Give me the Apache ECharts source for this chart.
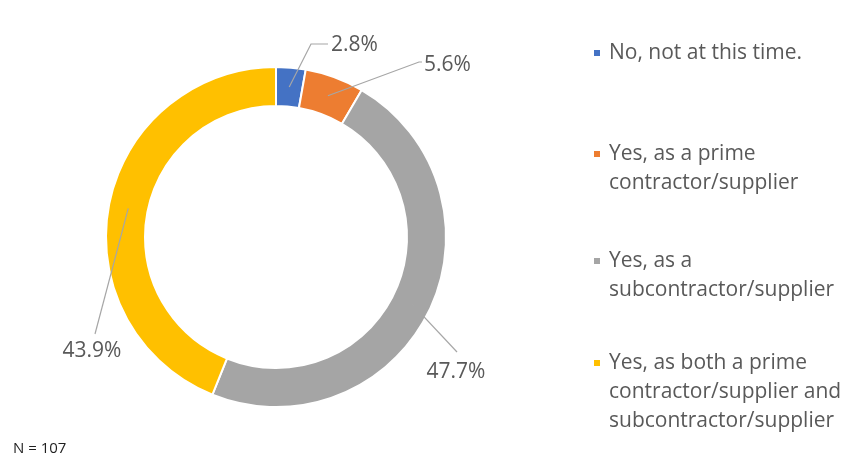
<!DOCTYPE html>
<html>
<head>
<meta charset="utf-8">
<script src="https://cdn.jsdelivr.net/npm/echarts@6/dist/echarts.min.js"></script>
<style>
  html, body { margin: 0; padding: 0; background: #fff; }
  #chart { width: 861px; height: 464px; }
</style>
</head>
<body>
<div id="chart"></div>
<script>
// Survey answers (share of respondents, %)
const categories = [
  'No, not at this time.',
  'Yes, as a prime\ncontractor/supplier',
  'Yes, as a\nsubcontractor/supplier',
  'Yes, as both a prime\ncontractor/supplier and\nsubcontractor/supplier'
];
const shares = [2.8, 5.6, 47.7, 43.9];
const colors = ['#4472C4', '#ED7D31', '#A5A5A5', '#FFC000'];
const footnote = 'N = 107';

// Ring geometry
const CX = 276, CY = 237, R_IN = 131, R_OUT = 170;

// Where each value label sits, and the elbow of its leader line
const labelSpots = [
  { x: 331, y: 45, align: 'left', bend: [311, 44], end: [328, 44] },
  { x: 424, y: 65, align: 'left', bend: [419, 62], end: [422, 62] },
  { x: 456, y: 372, align: 'center', bend: [457, 352], end: [457, 352] },
  { x: 92, y: 351, align: 'center', bend: [95, 334], end: [95, 334] }
];

// Legend rows: vertical centre of the first text line of each entry
const legendRows = [53, 154, 261, 363];
const LINE_H = 29;

const total = shares.reduce((a, b) => a + b, 0);
function midAnchor(i) {
  let before = 0;
  for (let k = 0; k < i; k++) before += shares[k];
  const frac = (before + shares[i] / 2) / total;
  const ang = frac * Math.PI * 2;
  const r = (R_IN + R_OUT) / 2;
  return [CX + r * Math.sin(ang), CY - r * Math.cos(ang)];
}

const FONT = '"Open Sans", "Liberation Sans", sans-serif';
const TEXT_COLOR = '#595959';
const sliceData = categories.map((name, i) => ({ name: name, value: shares[i] }));

// One legend per entry; blank lines above the wrapped text keep the
// marker level with the first line of text.
const legends = categories.map((name, i) => {
  const n = name.split('\n').length;
  return {
    data: [name],
    orient: 'vertical',
    left: 592,
    top: legendRows[i] - (n - 1) * LINE_H - LINE_H / 2,
    padding: 0,
    itemWidth: 14,
    itemHeight: 8,
    itemGap: 0,
    selectedMode: false,
    icon: 'path://M0,0H1V1H0Z',
    symbolKeepAspect: true,
    formatter: t => '\n'.repeat(n - 1) + t,
    textStyle: {
      fontFamily: FONT,
      fontSize: 21,
      color: TEXT_COLOR,
      lineHeight: LINE_H
    }
  };
});

const chart = echarts.init(document.getElementById('chart'), null, { renderer: 'canvas' });
chart.setOption({
  backgroundColor: '#ffffff',
  animation: false,
  color: colors,
  legend: legends,
  graphic: [{
    type: 'text',
    left: 13,
    top: 441,
    style: { text: footnote, fontFamily: FONT, fontSize: 15, fill: '#1f1f1f' }
  }],
  series: [
    {
      // the coloured ring
      type: 'pie',
      z: 2,
      center: [CX, CY],
      radius: [R_IN, R_OUT],
      startAngle: 90,
      clockwise: true,
      itemStyle: { borderColor: '#ffffff', borderWidth: 2 },
      label: { show: false },
      labelLine: { show: false },
      emphasis: { disabled: true },
      data: sliceData
    },
    {
      // value labels and leader lines, drawn over the ring
      type: 'pie',
      z: 5,
      center: [CX, CY],
      radius: [R_IN, R_OUT],
      startAngle: 90,
      clockwise: true,
      avoidLabelOverlap: false,
      silent: true,
      itemStyle: { color: 'rgba(0,0,0,0)', borderWidth: 0 },
      label: {
        show: true,
        position: 'outside',
        formatter: p => p.value.toFixed(1) + '%',
        fontFamily: FONT,
        fontSize: 21,
        color: TEXT_COLOR
      },
      labelLine: {
        show: true,
        lineStyle: { color: '#A6A6A6', width: 1.2 }
      },
      labelLayout: function (params) {
        const s = labelSpots[params.dataIndex];
        return {
          x: s.x,
          y: s.y,
          align: s.align,
          verticalAlign: 'middle',
          labelLinePoints: [midAnchor(params.dataIndex), s.bend, s.end]
        };
      },
      emphasis: { disabled: true },
      data: sliceData
    }
  ]
});
</script>
</body>
</html>
